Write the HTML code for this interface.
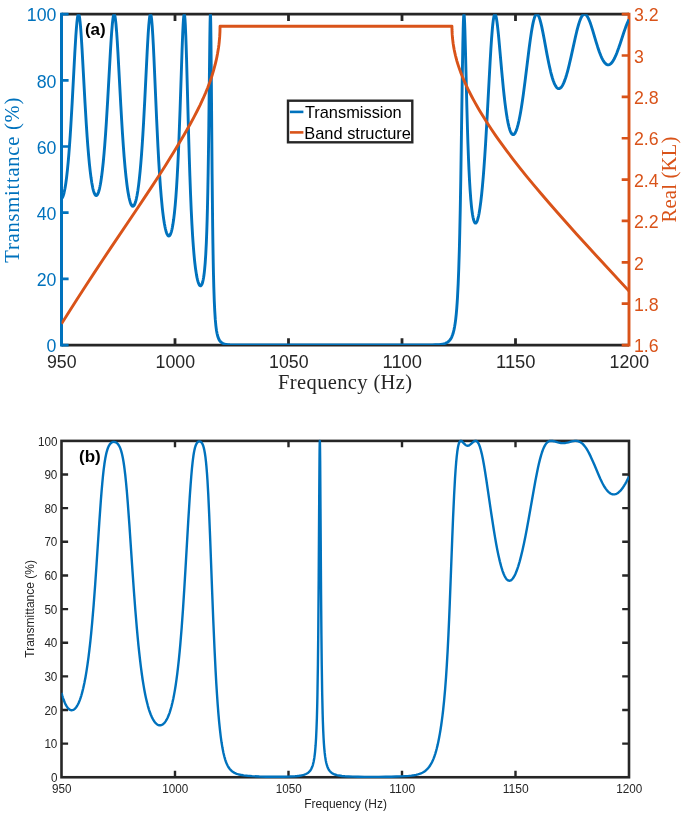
<!DOCTYPE html>
<html lang="en"><head><meta charset="utf-8"><title>Transmittance and band structure</title>
<style>html,body{margin:0;padding:0;background:#fff}body{width:685px;height:815px;overflow:hidden}svg{display:block}</style>
</head><body>
<svg width="685" height="815" viewBox="0 0 685 815">
<rect width="685" height="815" fill="#fff"/>
<clipPath id="ct"><rect x="61.5" y="14.15" width="567.5" height="330.90000000000003"/></clipPath>
<g stroke="#262626" stroke-width="2.8" fill="none">
<path d="M61.5,14.15 H629.0 M61.5,345.05 H629.0"/>
</g>
<g stroke="#262626" stroke-width="2.8" fill="none">
<path d="M175.00,14.15 v6.9 M175.00,345.05 v-6.9 M288.50,14.15 v6.9 M288.50,345.05 v-6.9 M402.00,14.15 v6.9 M402.00,345.05 v-6.9 M515.50,14.15 v6.9 M515.50,345.05 v-6.9 "/>
</g>
<g stroke="#0072BD" fill="none">
<path d="M61.5,12.8 V346.40000000000003" stroke-width="3"/>
<path d="M61.5,345.05 h7.1 M61.5,278.87 h7.1 M61.5,212.69 h7.1 M61.5,146.51 h7.1 M61.5,80.33 h7.1 M61.5,14.15 h7.1 " stroke-width="2.7"/>
</g>
<g stroke="#D95319" fill="none">
<path d="M629.0,12.8 V346.40000000000003" stroke-width="2.9"/>
<path d="M629.0,345.05 h-7.3 M629.0,303.69 h-7.3 M629.0,262.33 h-7.3 M629.0,220.96 h-7.3 M629.0,179.60 h-7.3 M629.0,138.24 h-7.3 M629.0,96.88 h-7.3 M629.0,55.51 h-7.3 M629.0,14.15 h-7.3 " stroke-width="2.7"/>
</g>
<g clip-path="url(#ct)" fill="none" stroke-linejoin="round" stroke-linecap="butt">
<path d="M61.50,198.46 L61.73,198.33 L61.95,198.13 L62.41,197.52 L62.86,196.61 L63.20,195.73 L63.66,194.30 L64.11,192.56 L64.91,188.78 L65.36,186.17 L65.81,183.23 L66.61,177.24 L67.40,170.15 L68.20,161.89 L68.88,153.85 L69.56,144.89 L70.24,135.03 L70.92,124.28 L72.17,102.55 L74.78,53.52 L75.80,36.52 L76.37,28.62 L76.94,22.20 L77.28,19.17 L77.50,17.53 L77.73,16.20 L77.96,15.20 L78.18,14.53 L78.30,14.32 L78.41,14.19 L78.53,14.15 L78.64,14.19 L78.75,14.32 L78.98,14.82 L79.32,16.20 L79.66,18.29 L80.00,21.06 L80.34,24.47 L80.80,29.90 L81.36,37.92 L82.04,48.92 L84.99,102.47 L86.36,125.11 L87.15,136.88 L87.83,146.04 L88.63,155.62 L89.42,164.04 L90.22,171.34 L91.01,177.57 L91.80,182.80 L92.26,185.35 L92.71,187.60 L93.05,189.09 L93.51,190.83 L93.96,192.29 L94.41,193.47 L94.87,194.39 L95.32,195.04 L95.78,195.42 L96.00,195.52 L96.23,195.55 L96.46,195.52 L96.69,195.42 L97.14,195.02 L97.59,194.37 L98.05,193.45 L98.50,192.26 L98.95,190.80 L99.41,189.07 L99.86,187.05 L100.32,184.74 L100.77,182.13 L101.57,176.81 L102.47,169.52 L103.27,162.02 L104.06,153.42 L104.74,145.14 L105.54,134.44 L106.33,122.62 L107.69,100.06 L110.42,51.39 L111.10,40.35 L111.67,32.18 L112.35,24.02 L112.92,18.92 L113.26,16.70 L113.60,15.15 L113.82,14.51 L113.94,14.31 L114.05,14.19 L114.16,14.15 L114.28,14.19 L114.39,14.31 L114.50,14.51 L114.73,15.15 L115.07,16.71 L115.41,18.95 L115.98,24.11 L116.66,32.41 L117.23,40.75 L117.91,52.05 L120.86,106.44 L121.66,120.23 L122.45,133.06 L123.36,146.39 L124.15,156.82 L125.06,167.34 L125.97,176.43 L126.99,185.02 L127.44,188.31 L128.01,192.00 L128.47,194.62 L129.03,197.50 L129.60,199.94 L130.17,201.97 L130.62,203.31 L131.19,204.62 L131.76,205.55 L131.98,205.81 L132.32,206.10 L132.66,206.24 L132.89,206.26 L133.23,206.18 L133.46,206.04 L133.80,205.73 L134.03,205.44 L134.59,204.45 L135.05,203.38 L135.50,202.04 L135.96,200.43 L136.30,199.04 L137.09,195.17 L137.89,190.38 L138.68,184.59 L139.36,178.78 L140.16,170.94 L140.84,163.24 L141.52,154.61 L142.20,145.00 L142.88,134.40 L143.56,122.83 L144.81,99.39 L147.19,51.38 L147.76,40.97 L148.21,33.45 L148.78,25.43 L149.35,19.32 L149.69,16.72 L149.92,15.47 L150.14,14.63 L150.26,14.36 L150.37,14.20 L150.48,14.15 L150.60,14.20 L150.71,14.36 L150.82,14.63 L151.05,15.49 L151.28,16.77 L151.62,19.47 L152.19,25.92 L152.75,34.54 L153.32,44.95 L153.89,56.70 L156.61,118.98 L157.98,147.16 L158.77,161.62 L159.56,174.53 L160.36,185.93 L161.27,197.18 L162.29,207.77 L162.74,211.83 L163.31,216.39 L163.76,219.64 L164.33,223.24 L164.90,226.35 L165.47,228.99 L166.03,231.19 L166.60,232.96 L167.17,234.32 L167.74,235.28 L167.96,235.55 L168.30,235.83 L168.64,235.97 L168.87,235.99 L169.21,235.89 L169.44,235.74 L169.78,235.39 L170.01,235.07 L170.57,233.98 L171.03,232.79 L171.48,231.30 L171.94,229.49 L172.39,227.35 L172.84,224.86 L173.64,219.57 L174.43,212.97 L175.23,204.86 L175.91,196.55 L176.59,186.80 L177.27,175.46 L177.84,164.67 L178.40,152.58 L178.97,139.15 L180.11,108.46 L182.04,50.73 L182.72,33.17 L183.17,23.95 L183.51,18.82 L183.74,16.39 L183.97,14.83 L184.08,14.38 L184.19,14.17 L184.31,14.19 L184.42,14.45 L184.53,14.96 L184.65,15.70 L184.99,19.34 L185.33,25.02 L185.78,35.48 L186.12,45.15 L186.58,59.92 L188.73,139.09 L189.30,158.15 L189.87,175.53 L190.55,194.06 L191.23,210.11 L191.91,223.87 L192.59,235.59 L193.05,242.40 L193.50,248.48 L193.95,253.92 L194.41,258.77 L194.86,263.08 L195.43,267.80 L195.88,271.09 L196.45,274.64 L197.02,277.64 L197.59,280.13 L198.15,282.14 L198.49,283.13 L198.84,283.97 L199.18,284.65 L199.52,285.18 L199.86,285.55 L200.08,285.72 L200.42,285.83 L200.76,285.78 L201.10,285.57 L201.33,285.33 L201.79,284.59 L202.24,283.50 L202.69,282.00 L203.15,280.03 L203.60,277.54 L203.94,275.25 L204.28,272.56 L204.62,269.39 L205.19,262.84 L205.76,254.25 L206.33,242.91 L206.78,231.17 L207.12,220.34 L207.46,207.36 L207.80,191.78 L208.14,173.10 L208.48,150.88 L208.82,124.93 L209.84,37.22 L210.07,23.13 L210.19,18.27 L210.30,15.21 L210.41,14.15 L210.53,15.24 L210.64,18.55 L210.75,24.06 L210.98,41.08 L211.32,77.83 L212.11,174.35 L212.68,227.17 L212.91,243.45 L213.25,263.44 L213.48,274.28 L213.82,287.54 L214.27,300.89 L214.73,310.65 L215.29,319.39 L215.86,325.55 L216.20,328.37 L216.54,330.70 L217.00,333.22 L217.45,335.21 L217.90,336.80 L218.47,338.37 L219.06,339.63 L219.75,340.76 L220.17,341.31 L220.74,341.92 L221.31,342.41 L221.99,342.89 L222.67,343.26 L223.46,343.61 L224.26,343.87 L225.17,344.11 L226.19,344.32 L227.21,344.47 L229.82,344.72 L233.23,344.88 L237.88,344.97 L247.98,345.03 L270.91,345.05 L400.98,345.05 L424.13,345.00 L432.42,344.88 L435.37,344.78 L437.75,344.65 L439.91,344.45 L441.73,344.21 L443.31,343.90 L444.68,343.53 L445.47,343.25 L446.27,342.92 L446.95,342.57 L447.63,342.16 L448.31,341.65 L448.88,341.16 L449.44,340.58 L450.01,339.91 L450.92,338.57 L451.37,337.75 L451.83,336.81 L452.62,334.80 L453.34,332.50 L453.98,329.90 L454.55,327.07 L455.12,323.62 L455.69,319.35 L456.25,314.06 L456.71,308.90 L457.16,302.70 L457.50,297.23 L458.18,283.69 L458.75,269.05 L459.32,250.50 L459.77,232.27 L460.23,210.61 L460.79,178.45 L462.27,77.92 L462.84,44.04 L463.18,28.92 L463.40,21.66 L463.63,16.82 L463.74,15.33 L463.86,14.44 L463.97,14.15 L464.08,14.43 L464.20,15.26 L464.42,18.44 L464.65,23.40 L464.88,29.83 L465.45,50.23 L466.81,105.35 L467.49,129.48 L467.94,143.51 L468.51,158.76 L468.96,169.27 L469.53,180.50 L470.10,189.88 L470.78,199.07 L471.46,206.34 L471.80,209.35 L472.26,212.81 L472.60,215.01 L473.05,217.48 L473.39,219.00 L473.85,220.63 L474.19,221.57 L474.64,222.46 L474.87,222.77 L475.09,222.98 L475.32,223.10 L475.55,223.14 L475.89,223.03 L476.12,222.86 L476.34,222.60 L476.80,221.85 L477.25,220.78 L477.70,219.40 L478.16,217.71 L478.61,215.71 L479.07,213.41 L479.52,210.79 L479.97,207.86 L480.77,201.96 L481.68,193.97 L482.47,185.85 L483.27,176.64 L483.95,167.88 L484.74,156.64 L485.54,144.35 L487.01,119.06 L490.08,62.49 L490.87,49.15 L491.55,38.95 L492.35,28.93 L492.80,24.26 L493.14,21.32 L493.59,18.17 L493.94,16.40 L494.28,15.14 L494.62,14.40 L494.73,14.26 L494.96,14.15 L495.07,14.18 L495.30,14.39 L495.64,15.09 L495.98,16.24 L496.32,17.80 L496.66,19.73 L497.00,22.02 L497.45,25.54 L498.13,31.68 L498.82,38.59 L501.88,72.91 L503.36,88.28 L504.15,95.76 L504.94,102.60 L505.74,108.77 L506.53,114.24 L507.33,119.03 L508.12,123.14 L508.92,126.60 L509.71,129.41 L510.05,130.42 L510.51,131.59 L510.96,132.57 L511.41,133.36 L511.75,133.82 L512.21,134.28 L512.66,134.55 L513.12,134.64 L513.46,134.59 L513.91,134.36 L514.25,134.08 L514.71,133.56 L515.05,133.06 L515.50,132.24 L515.95,131.26 L516.41,130.11 L517.20,127.72 L518.11,124.39 L518.90,120.99 L519.81,116.54 L520.61,112.19 L521.52,106.71 L522.42,100.75 L523.33,94.33 L525.03,81.34 L529.23,47.50 L530.37,39.10 L531.39,32.26 L532.07,28.18 L532.64,25.12 L533.21,22.40 L533.77,20.04 L534.34,18.07 L534.91,16.49 L535.48,15.31 L535.70,14.95 L536.04,14.54 L536.27,14.35 L536.61,14.18 L536.84,14.15 L537.18,14.22 L537.41,14.35 L537.75,14.65 L537.97,14.92 L538.31,15.45 L538.88,16.59 L539.45,18.07 L540.02,19.84 L540.70,22.32 L541.72,26.66 L542.85,32.13 L543.99,38.06 L547.05,54.62 L548.87,63.75 L549.78,67.93 L550.68,71.77 L551.59,75.27 L552.39,78.01 L553.18,80.46 L553.98,82.59 L554.77,84.40 L555.57,85.89 L556.36,87.06 L556.70,87.47 L557.15,87.91 L557.50,88.17 L557.95,88.43 L558.29,88.56 L558.74,88.63 L559.08,88.62 L559.54,88.52 L559.99,88.31 L560.45,88.01 L560.79,87.72 L561.24,87.24 L561.69,86.66 L562.15,85.99 L562.94,84.60 L563.85,82.66 L564.76,80.37 L565.67,77.75 L566.46,75.21 L567.37,72.03 L568.28,68.60 L569.19,64.93 L571.00,57.07 L575.43,36.95 L576.79,31.22 L577.93,26.87 L578.61,24.50 L579.29,22.33 L579.97,20.39 L580.54,18.95 L581.22,17.46 L581.78,16.42 L582.35,15.57 L582.92,14.92 L583.49,14.47 L583.83,14.29 L584.17,14.19 L584.51,14.15 L584.85,14.18 L585.19,14.29 L585.53,14.46 L585.87,14.70 L586.21,15.01 L586.89,15.81 L587.57,16.85 L588.25,18.12 L588.93,19.59 L589.62,21.24 L590.30,23.06 L591.09,25.35 L592.68,30.35 L596.08,41.79 L597.67,46.92 L599.38,51.94 L600.85,55.76 L601.76,57.82 L602.67,59.63 L603.58,61.19 L604.48,62.48 L605.39,63.49 L606.19,64.15 L606.64,64.43 L607.09,64.64 L607.43,64.75 L607.89,64.83 L608.34,64.84 L608.80,64.78 L609.14,64.69 L609.59,64.51 L610.05,64.26 L610.50,63.94 L611.41,63.09 L612.32,61.97 L613.22,60.61 L614.13,59.00 L615.15,56.92 L615.95,55.13 L616.74,53.20 L618.56,48.32 L620.15,43.68 L623.89,32.32 L625.71,27.14 L626.62,24.76 L627.41,22.82 L628.21,21.05 L629.00,19.44" stroke="#0072BD" stroke-width="2.9"/>
<path d="M61.50,323.85 L69.10,311.73 L77.05,299.25 L85.45,286.23 L94.19,272.86 L102.36,260.48 L111.10,247.37 L135.96,210.46 L144.35,197.92 L152.64,185.37 L160.36,173.46 L165.47,165.42 L170.23,157.80 L174.89,150.23 L179.20,143.08 L183.40,135.96 L187.26,129.26 L190.66,123.19 L193.84,117.33 L197.13,111.01 L200.20,104.82 L203.03,98.73 L205.53,93.02 L207.80,87.43 L209.96,81.66 L211.89,75.98 L213.59,70.41 L215.07,64.98 L215.75,62.21 L216.43,59.22 L217.00,56.52 L217.56,53.55 L218.47,48.00 L218.88,45.00 L219.21,42.10 L219.69,36.65 L219.96,31.55 L220.06,26.23 L451.94,26.23 L451.97,29.16 L452.07,31.96 L452.25,34.94 L452.51,38.03 L452.79,40.63 L453.19,43.71 L453.64,46.63 L454.21,49.77 L454.78,52.53 L455.46,55.50 L456.14,58.18 L456.93,61.06 L457.84,64.07 L458.75,66.87 L459.77,69.81 L460.91,72.87 L462.15,76.04 L463.52,79.32 L464.99,82.69 L466.47,85.92 L468.06,89.26 L469.76,92.70 L471.58,96.23 L473.39,99.65 L475.32,103.16 L477.36,106.77 L479.52,110.47 L481.68,114.07 L486.33,121.54 L491.21,129.00 L496.20,136.32 L501.43,143.67 L507.10,151.39 L513.12,159.30 L519.59,167.57 L526.40,176.04 L533.66,184.86 L541.38,194.03 L549.32,203.29 L557.84,213.04 L566.92,223.29 L576.68,234.16 L587.00,245.54 L598.47,258.06 L629.00,291.07" stroke="#D95319" stroke-width="2.9"/>
</g>
<g font-family="Liberation Sans, Arial, Helvetica, sans-serif" font-size="18.5">
<g fill="#0072BD" text-anchor="end">
<text x="56.4" y="352.4" textLength="9.87" lengthAdjust="spacingAndGlyphs">0</text>
<text x="56.4" y="286.2" textLength="19.75" lengthAdjust="spacingAndGlyphs">20</text>
<text x="56.4" y="220.0" textLength="19.75" lengthAdjust="spacingAndGlyphs">40</text>
<text x="56.4" y="153.8" textLength="19.75" lengthAdjust="spacingAndGlyphs">60</text>
<text x="56.4" y="87.6" textLength="19.75" lengthAdjust="spacingAndGlyphs">80</text>
<text x="56.4" y="21.4" textLength="29.62" lengthAdjust="spacingAndGlyphs">100</text>
</g>
<g fill="#D95319" text-anchor="start">
<text x="633.9" y="352.2" textLength="24.69" lengthAdjust="spacingAndGlyphs">1.6</text>
<text x="633.9" y="310.9" textLength="24.69" lengthAdjust="spacingAndGlyphs">1.8</text>
<text x="633.9" y="269.5" textLength="9.87" lengthAdjust="spacingAndGlyphs">2</text>
<text x="633.9" y="228.2" textLength="24.69" lengthAdjust="spacingAndGlyphs">2.2</text>
<text x="633.9" y="186.8" textLength="24.69" lengthAdjust="spacingAndGlyphs">2.4</text>
<text x="633.9" y="145.4" textLength="24.69" lengthAdjust="spacingAndGlyphs">2.6</text>
<text x="633.9" y="104.1" textLength="24.69" lengthAdjust="spacingAndGlyphs">2.8</text>
<text x="633.9" y="62.7" textLength="9.87" lengthAdjust="spacingAndGlyphs">3</text>
<text x="633.9" y="21.4" textLength="24.69" lengthAdjust="spacingAndGlyphs">3.2</text>
</g>
<g fill="#262626" text-anchor="middle">
<text x="61.8" y="368.0" textLength="29.62" lengthAdjust="spacingAndGlyphs">950</text>
<text x="175.3" y="368.0" textLength="39.50" lengthAdjust="spacingAndGlyphs">1000</text>
<text x="288.8" y="368.0" textLength="39.50" lengthAdjust="spacingAndGlyphs">1050</text>
<text x="402.3" y="368.0" textLength="39.50" lengthAdjust="spacingAndGlyphs">1100</text>
<text x="515.8" y="368.0" textLength="39.50" lengthAdjust="spacingAndGlyphs">1150</text>
<text x="629.3" y="368.0" textLength="39.50" lengthAdjust="spacingAndGlyphs">1200</text>
</g></g>
<g font-family="Liberation Serif, Times New Roman, serif" font-size="20.5">
<text x="345.1" y="389" text-anchor="middle" fill="#262626" textLength="134" lengthAdjust="spacing">Frequency (Hz)</text>
<text transform="translate(18.5,180.2) rotate(-90)" text-anchor="middle" fill="#0072BD" textLength="165" lengthAdjust="spacing">Transmittance (%)</text>
<text transform="translate(676,179.6) rotate(-90)" text-anchor="middle" fill="#D95319" textLength="85.8" lengthAdjust="spacing">Real (KL)</text>
</g>
<text x="84.9" y="35.4" font-family="Liberation Sans, Arial, sans-serif" font-weight="bold" font-size="17" fill="#000">(a)</text>
<rect x="288" y="100.7" width="124.3" height="41.6" fill="#fff" stroke="#262626" stroke-width="2.4"/>
<path d="M289.9,111.9 H303.4" stroke="#0072BD" stroke-width="2.6"/>
<path d="M289.9,132.4 H303.4" stroke="#D95319" stroke-width="2.6"/>
<g font-family="Liberation Sans, Arial, sans-serif" font-size="16.4" fill="#000">
<text x="304.9" y="118.1">Transmission</text>
<text x="304.3" y="138.7">Band structure</text>
</g>
<clipPath id="cb"><rect x="61.5" y="438.9" width="567.5" height="340.35"/></clipPath>
<rect x="61.5" y="440.9" width="567.5" height="336.35" fill="none" stroke="#262626" stroke-width="2.6"/>
<path d="M175.00,440.9 v6.4 M175.00,777.25 v-6.4 M288.50,440.9 v6.4 M288.50,777.25 v-6.4 M402.00,440.9 v6.4 M402.00,777.25 v-6.4 M515.50,440.9 v6.4 M515.50,777.25 v-6.4 M61.5,743.62 h6.6 M629.0,743.62 h-6.8 M61.5,709.98 h6.6 M629.0,709.98 h-6.8 M61.5,676.35 h6.6 M629.0,676.35 h-6.8 M61.5,642.71 h6.6 M629.0,642.71 h-6.8 M61.5,609.08 h6.6 M629.0,609.08 h-6.8 M61.5,575.44 h6.6 M629.0,575.44 h-6.8 M61.5,541.81 h6.6 M629.0,541.81 h-6.8 M61.5,508.17 h6.6 M629.0,508.17 h-6.8 M61.5,474.53 h6.6 M629.0,474.53 h-6.8 " stroke="#262626" stroke-width="2.4" fill="none"/>
<g clip-path="url(#cb)" fill="none" stroke-linejoin="round">
<path d="M61.50,692.87 L62.18,695.31 L62.86,697.52 L63.54,699.52 L64.22,701.33 L64.91,702.94 L65.59,704.37 L66.27,705.64 L67.06,706.90 L67.74,707.82 L68.54,708.69 L69.33,709.37 L70.13,709.85 L70.81,710.10 L71.60,710.23 L72.40,710.17 L73.19,709.92 L73.98,709.49 L74.78,708.86 L75.57,708.04 L76.25,707.17 L77.05,705.97 L77.73,704.77 L78.53,703.16 L79.21,701.59 L79.89,699.84 L80.57,697.90 L81.25,695.77 L81.93,693.42 L83.18,688.53 L84.43,682.81 L85.45,677.45 L86.47,671.42 L87.49,664.66 L88.51,657.10 L89.42,649.67 L90.33,641.51 L91.24,632.60 L92.14,622.89 L93.62,605.37 L95.10,585.69 L96.46,565.78 L99.30,522.49 L100.77,501.60 L101.57,491.45 L102.25,483.55 L102.93,476.45 L103.61,470.22 L104.40,464.04 L104.86,461.02 L105.31,458.33 L105.77,455.95 L106.33,453.36 L106.79,451.57 L107.35,449.64 L107.92,448.01 L108.49,446.65 L109.06,445.52 L109.62,444.60 L110.30,443.71 L110.99,443.04 L111.67,442.54 L112.46,442.15 L112.92,442.01 L113.48,441.92 L113.94,441.89 L114.50,441.94 L115.07,442.06 L115.53,442.22 L115.98,442.43 L116.43,442.70 L116.89,443.03 L117.34,443.43 L118.14,444.32 L118.93,445.50 L119.73,447.01 L120.41,448.65 L121.09,450.64 L121.77,453.06 L122.34,455.46 L122.90,458.25 L123.47,461.48 L124.04,465.20 L124.49,468.55 L125.29,475.25 L126.08,483.00 L126.88,491.76 L127.78,502.89 L129.37,524.65 L132.55,571.83 L133.91,591.24 L135.39,610.74 L136.86,628.41 L137.66,637.13 L138.45,645.29 L139.25,652.91 L140.16,660.96 L140.95,667.44 L141.86,674.26 L142.65,679.72 L143.56,685.41 L144.35,689.96 L145.26,694.68 L146.06,698.43 L146.97,702.31 L147.87,705.80 L148.89,709.29 L149.80,712.03 L150.82,714.74 L151.85,717.10 L152.98,719.32 L154.00,720.99 L154.57,721.79 L155.14,722.50 L155.70,723.13 L156.27,723.68 L156.84,724.15 L157.41,724.53 L157.98,724.84 L158.54,725.07 L159.11,725.23 L159.79,725.31 L160.47,725.28 L161.04,725.18 L161.61,724.99 L162.17,724.73 L162.74,724.38 L163.31,723.95 L163.88,723.44 L164.44,722.84 L165.01,722.15 L165.58,721.37 L166.60,719.71 L167.62,717.71 L168.64,715.35 L169.67,712.57 L170.57,709.73 L171.48,706.49 L172.39,702.83 L173.30,698.69 L174.09,694.64 L174.89,690.15 L175.68,685.19 L176.48,679.70 L177.27,673.65 L178.06,666.98 L178.86,659.65 L179.65,651.61 L180.33,644.11 L181.70,627.33 L182.94,609.80 L184.19,590.42 L185.44,569.62 L188.28,520.66 L189.75,497.01 L190.55,485.56 L191.23,476.74 L191.91,468.97 L192.59,462.34 L193.05,458.56 L193.50,455.28 L193.95,452.48 L194.41,450.14 L194.86,448.20 L195.43,446.25 L196.00,444.75 L196.56,443.60 L196.91,443.06 L197.36,442.47 L197.70,442.13 L198.15,441.77 L198.49,441.59 L198.95,441.42 L199.40,441.36 L199.86,441.40 L200.31,441.54 L200.65,441.71 L201.10,442.05 L201.45,442.39 L201.79,442.82 L202.13,443.35 L202.47,443.98 L202.81,444.74 L203.15,445.64 L203.49,446.70 L203.83,447.94 L204.17,449.39 L204.85,453.02 L205.42,456.93 L205.99,461.81 L206.44,466.53 L207.01,473.59 L207.46,480.27 L208.26,494.34 L209.16,513.88 L210.07,536.32 L212.23,593.81 L213.25,619.73 L214.50,648.53 L215.63,671.42 L216.31,683.56 L217.00,694.52 L217.68,704.36 L218.40,713.70 L219.15,722.11 L219.90,729.48 L220.74,736.57 L221.53,742.30 L222.44,747.84 L223.35,752.45 L224.26,756.29 L224.71,757.96 L225.28,759.84 L225.85,761.51 L226.42,762.99 L226.98,764.32 L227.66,765.71 L228.23,766.74 L228.91,767.82 L229.59,768.76 L230.39,769.71 L231.18,770.52 L231.98,771.21 L232.77,771.80 L233.68,772.38 L234.59,772.87 L235.61,773.34 L236.74,773.78 L237.88,774.15 L239.13,774.48 L240.49,774.79 L241.97,775.06 L243.67,775.32 L247.41,775.74 L252.18,776.12 L259.33,776.51 L266.48,776.74 L274.54,776.81 L282.94,776.73 L289.75,776.52 L295.08,776.21 L297.35,775.99 L299.28,775.75 L300.99,775.48 L302.57,775.15 L303.82,774.81 L304.96,774.43 L305.98,774.01 L306.89,773.55 L307.79,772.98 L308.59,772.36 L309.27,771.72 L309.95,770.95 L310.52,770.18 L311.09,769.26 L311.65,768.14 L312.11,767.07 L312.56,765.81 L313.02,764.30 L313.70,761.40 L314.04,759.59 L314.38,757.45 L314.72,754.90 L315.06,751.85 L315.63,745.22 L316.08,737.95 L316.53,728.06 L316.88,718.17 L317.22,705.27 L317.44,694.44 L317.90,665.38 L318.24,634.78 L318.69,578.73 L319.26,490.64 L319.49,460.67 L319.60,449.97 L319.71,443.20 L319.83,440.90 L319.94,443.20 L320.05,449.97 L320.17,460.67 L321.07,594.46 L321.42,634.78 L321.76,665.38 L322.21,694.44 L322.66,714.25 L322.89,721.75 L323.23,730.84 L323.57,737.95 L323.91,743.60 L324.25,748.14 L324.71,752.93 L325.16,756.65 L325.73,760.23 L326.30,762.96 L326.98,765.46 L327.32,766.47 L327.77,767.63 L328.57,769.26 L329.02,770.01 L329.47,770.66 L330.04,771.36 L330.61,771.95 L331.18,772.46 L331.86,772.97 L332.54,773.41 L333.22,773.79 L334.01,774.16 L334.92,774.51 L336.85,775.09 L339.12,775.56 L341.84,775.94 L344.91,776.23 L348.43,776.45 L352.74,776.63 L357.85,776.76 L364.32,776.86 L371.58,776.90 L378.96,776.88 L385.88,776.81 L391.33,776.70 L396.32,776.56 L400.98,776.36 L405.18,776.12 L408.58,775.87 L411.42,775.58 L413.92,775.23 L416.07,774.83 L417.89,774.40 L419.48,773.91 L420.95,773.36 L422.32,772.73 L423.68,771.97 L424.93,771.13 L426.06,770.22 L427.20,769.16 L428.22,768.04 L429.24,766.75 L430.26,765.25 L431.17,763.72 L432.08,761.98 L432.87,760.27 L433.67,758.35 L434.46,756.21 L435.26,753.82 L436.05,751.16 L436.84,748.20 L437.64,744.90 L438.43,741.25 L439.11,737.81 L439.91,733.40 L440.59,729.27 L441.27,724.77 L441.84,720.69 L442.52,715.36 L443.09,710.51 L444.11,700.65 L445.13,689.09 L446.04,677.04 L446.83,664.89 L447.63,650.98 L448.42,635.10 L449.10,619.87 L449.78,603.32 L452.16,540.53 L453.07,517.75 L454.10,495.28 L455.00,478.63 L455.57,469.97 L456.14,462.65 L456.71,456.63 L457.27,451.79 L457.84,448.04 L458.18,446.25 L458.52,444.77 L458.86,443.57 L459.20,442.63 L459.54,441.92 L460.00,441.29 L460.23,441.09 L460.57,440.91 L461.13,440.90 L461.59,441.10 L462.04,441.42 L462.50,441.84 L464.42,443.94 L465.45,444.87 L466.01,445.26 L466.58,445.53 L467.04,445.66 L467.60,445.72 L468.06,445.68 L468.62,445.53 L469.19,445.28 L469.76,444.93 L470.78,444.13 L473.05,442.08 L473.62,441.64 L474.19,441.28 L474.64,441.06 L475.09,440.92 L475.77,440.90 L476.00,440.93 L476.57,441.15 L477.02,441.47 L477.48,441.92 L477.93,442.52 L478.39,443.26 L478.84,444.15 L479.29,445.21 L479.75,446.42 L480.20,447.79 L480.77,449.73 L481.79,453.84 L482.93,459.27 L484.06,465.51 L485.08,471.68 L486.33,479.73 L491.32,513.79 L493.71,529.28 L494.96,536.84 L496.20,543.92 L497.34,549.91 L498.48,555.41 L499.84,561.36 L501.09,566.15 L501.77,568.48 L502.45,570.62 L503.13,572.55 L503.70,574.01 L504.38,575.56 L504.94,576.70 L505.51,577.69 L506.19,578.68 L506.76,579.36 L507.44,580.00 L508.12,580.44 L508.80,580.68 L509.37,580.75 L510.05,580.66 L510.73,580.39 L511.41,579.94 L512.10,579.31 L512.78,578.52 L513.46,577.55 L514.14,576.42 L514.82,575.13 L515.50,573.68 L516.18,572.06 L516.86,570.30 L518.22,566.31 L519.70,561.33 L521.06,556.15 L522.54,549.96 L524.01,543.20 L525.49,535.94 L526.96,528.25 L528.55,519.57 L533.66,490.49 L535.36,481.07 L537.18,471.69 L538.09,467.36 L538.88,463.81 L539.90,459.60 L540.92,455.82 L541.95,452.50 L542.97,449.64 L543.99,447.23 L544.56,446.09 L545.12,445.09 L545.58,444.37 L546.14,443.59 L546.71,442.93 L547.28,442.38 L547.73,442.01 L548.30,441.64 L548.76,441.40 L549.32,441.18 L549.89,441.02 L550.46,440.93 L551.59,440.90 L552.50,440.99 L553.64,441.21 L557.95,442.41 L559.88,442.84 L560.90,442.99 L561.92,443.09 L562.83,443.12 L563.85,443.09 L565.44,442.94 L567.03,442.66 L568.50,442.32 L571.80,441.45 L573.38,441.11 L574.86,440.92 L576.11,440.90 L576.90,440.96 L577.58,441.07 L578.38,441.27 L579.06,441.51 L579.74,441.81 L580.42,442.18 L581.10,442.62 L581.78,443.13 L582.69,443.93 L583.60,444.86 L584.51,445.92 L585.42,447.12 L586.32,448.45 L587.23,449.91 L588.14,451.49 L589.16,453.40 L590.75,456.63 L592.57,460.63 L594.27,464.59 L598.24,474.07 L600.17,478.47 L602.10,482.52 L603.01,484.26 L603.92,485.88 L604.94,487.54 L605.85,488.87 L606.75,490.06 L607.66,491.11 L608.68,492.12 L609.59,492.87 L610.50,493.46 L611.41,493.91 L612.43,494.25 L613.45,494.40 L614.47,494.37 L615.49,494.15 L616.51,493.76 L617.54,493.20 L618.56,492.47 L619.69,491.46 L620.71,490.38 L621.85,489.01 L622.98,487.45 L624.12,485.72 L625.25,483.83 L626.50,481.57 L627.75,479.16 L629.00,476.59" stroke="#0072BD" stroke-width="2.4"/>
</g>
<g font-family="Liberation Sans, Arial, Helvetica, sans-serif" font-size="12" fill="#262626">
<g text-anchor="end">
<text x="57.4" y="781.9" textLength="6.51" lengthAdjust="spacingAndGlyphs">0</text>
<text x="57.4" y="748.2" textLength="13.01" lengthAdjust="spacingAndGlyphs">10</text>
<text x="57.4" y="714.6" textLength="13.01" lengthAdjust="spacingAndGlyphs">20</text>
<text x="57.4" y="680.9" textLength="13.01" lengthAdjust="spacingAndGlyphs">30</text>
<text x="57.4" y="647.3" textLength="13.01" lengthAdjust="spacingAndGlyphs">40</text>
<text x="57.4" y="613.7" textLength="13.01" lengthAdjust="spacingAndGlyphs">50</text>
<text x="57.4" y="580.0" textLength="13.01" lengthAdjust="spacingAndGlyphs">60</text>
<text x="57.4" y="546.4" textLength="13.01" lengthAdjust="spacingAndGlyphs">70</text>
<text x="57.4" y="512.8" textLength="13.01" lengthAdjust="spacingAndGlyphs">80</text>
<text x="57.4" y="479.1" textLength="13.01" lengthAdjust="spacingAndGlyphs">90</text>
<text x="57.4" y="445.5" textLength="19.52" lengthAdjust="spacingAndGlyphs">100</text>
</g><g text-anchor="middle">
<text x="61.8" y="792.9" textLength="19.52" lengthAdjust="spacingAndGlyphs">950</text>
<text x="175.3" y="792.9" textLength="26.02" lengthAdjust="spacingAndGlyphs">1000</text>
<text x="288.8" y="792.9" textLength="26.02" lengthAdjust="spacingAndGlyphs">1050</text>
<text x="402.3" y="792.9" textLength="26.02" lengthAdjust="spacingAndGlyphs">1100</text>
<text x="515.8" y="792.9" textLength="26.02" lengthAdjust="spacingAndGlyphs">1150</text>
<text x="629.3" y="792.9" textLength="26.02" lengthAdjust="spacingAndGlyphs">1200</text>
</g>
<text x="345.6" y="808" text-anchor="middle">Frequency (Hz)</text>
<text transform="translate(34.3,608.9) rotate(-90)" text-anchor="middle">Transmittance (%)</text>
</g>
<text x="79" y="461.9" font-family="Liberation Sans, Arial, sans-serif" font-weight="bold" font-size="17" fill="#000">(b)</text>
</svg>
</body></html>
